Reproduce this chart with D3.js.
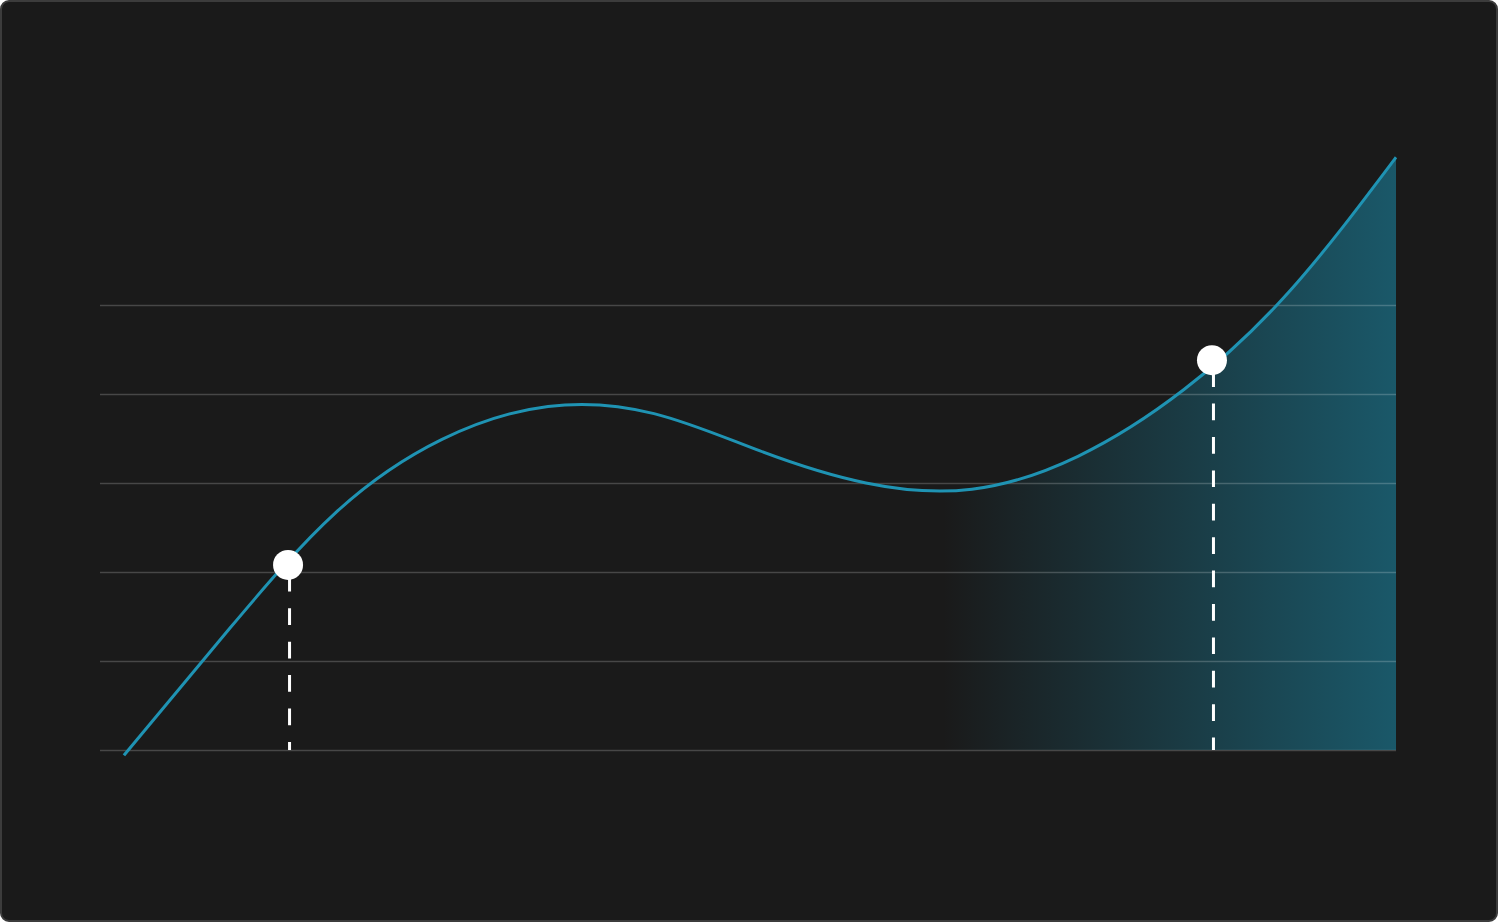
<!DOCTYPE html>
<html>
<head>
<meta charset="utf-8">
<script src="https://cdn.jsdelivr.net/npm/d3@7"></script>
<style>
  html, body { margin: 0; padding: 0; background: #ffffff; }
  svg { display: block; }
</style>
</head>
<body>
<svg></svg>
<script>
// curve (x: 0..100 across the grid, y: grid units)
const xValues = [1.85, 10.03, 18.21, 26.39, 34.57, 42.75, 50.93, 59.10, 67.28, 75.46, 83.64, 91.82, 100];
const yValues = [-0.06, 1.37, 2.67, 3.49, 3.86, 3.78, 3.36, 3.00, 2.93, 3.30, 4.05, 5.16, 6.66];
const gridTicks = [0, 1, 2, 3, 4, 5];
const markerX = [14.51, 85.80];
const markerY = [2.08, 4.38];
const shadeFrom = 65.05;

const width = 1500;
const height = 923;
const plotLeft = 100, plotRight = 1396;
const plotTop = 305, plotBottom = 750;

let svg = d3.select('svg');
let xScale, yScale;

const values = xValues.map((x, i) => ({ x: x, y: yValues[i] }));

function drawCanvas () {
    svg.attr('width', width).attr('height', height);
    svg.append('rect')
        .attr('x', 1).attr('y', 1)
        .attr('width', width - 4).attr('height', height - 3)
        .attr('rx', 8)
        .attr('fill', '#1a1a1a')
        .attr('stroke', '#3c3c3c')
        .attr('stroke-width', 2);
}

function generateScales () {
    xScale = d3.scaleLinear().domain([0, 100]).range([plotLeft, plotRight]);
    yScale = d3.scaleLinear().domain([0, 5]).range([plotBottom, plotTop]);
}

function drawArea () {
    const grad = svg.append('defs').append('linearGradient')
        .attr('id', 'shade')
        .attr('gradientUnits', 'userSpaceOnUse')
        .attr('x1', xScale(shadeFrom)).attr('x2', xScale(100))
        .attr('y1', 0).attr('y2', 0);
    grad.append('stop').attr('offset', '0%').attr('stop-color', '#1a5869').attr('stop-opacity', 0);
    grad.append('stop').attr('offset', '100%').attr('stop-color', '#1a5869').attr('stop-opacity', 1);

    const area = d3.area()
        .x(d => xScale(d.x))
        .y0(yScale(0))
        .y1(d => yScale(d.y))
        .curve(d3.curveNatural);

    svg.append('path')
        .datum(values)
        .attr('d', area)
        .attr('fill', 'url(#shade)');
}

function generateAxes () {
    let yAxis = d3.axisLeft(yScale)
        .tickValues(gridTicks)
        .tickSize(-(plotRight - plotLeft))
        .tickFormat('');
    let g = svg.append('g')
        .attr('transform', 'translate(' + plotLeft + ', 0)')
        .call(yAxis);
    g.select('.domain').remove();
    g.selectAll('.tick line')
        .attr('stroke', '#ffffff')
        .attr('stroke-opacity', 0.2)
        .attr('stroke-width', 1.5);
}

function drawLine () {
    const line = d3.line()
        .x(d => xScale(d.x))
        .y(d => yScale(d.y))
        .curve(d3.curveNatural);

    svg.append('path')
        .datum(values)
        .attr('d', line)
        .attr('fill', 'none')
        .attr('stroke', '#1f93b3')
        .attr('stroke-width', 3);
}

function drawMarkers () {
    const marks = markerX.map((x, i) => ({ x: x, y: markerY[i] }));

    svg.selectAll('line.drop')
        .data(marks)
        .enter()
        .append('line')
        .attr('class', 'drop')
        .attr('x1', d => xScale(d.x) + 1.5)
        .attr('x2', d => xScale(d.x) + 1.5)
        .attr('y1', d => yScale(d.y) + 10)
        .attr('y2', yScale(0))
        .attr('stroke', '#ffffff')
        .attr('stroke-width', 3)
        .attr('stroke-dasharray', '16.7 16.7');

    svg.selectAll('circle.mark')
        .data(marks)
        .enter()
        .append('circle')
        .attr('class', 'mark')
        .attr('cx', d => xScale(d.x))
        .attr('cy', d => yScale(d.y))
        .attr('r', 15)
        .attr('fill', '#ffffff');
}

drawCanvas();
generateScales();
drawArea();
generateAxes();
drawLine();
drawMarkers();
</script>
</body>
</html>
